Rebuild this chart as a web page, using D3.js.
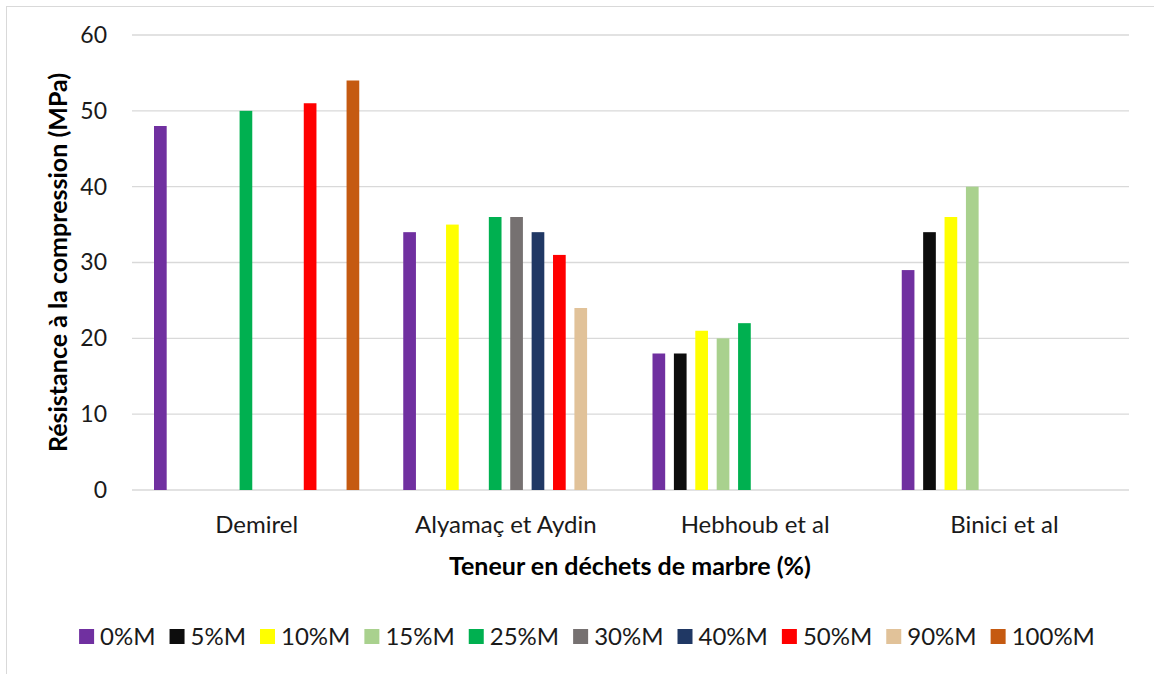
<!DOCTYPE html>
<html>
<head>
<meta charset="utf-8">
<script src="https://cdn.jsdelivr.net/npm/d3@7"></script>
<style>
  html, body { margin: 0; padding: 0; background: #fff; }
  svg { display: block; font-family: Lato, "Open Sans", sans-serif; }
</style>
</head>
<body>
<svg id="chart" width="1154" height="674"></svg>
<script>
// Studies (x-axis groups)
const studies = ["Demirel", "Alyamaç et Aydin", "Hebhoub et al", "Binici et al"];

// Marble-waste replacement levels (series)
const levels = ["0%M", "5%M", "10%M", "15%M", "25%M", "30%M", "40%M", "50%M", "90%M", "100%M"];
const levelColors = ["#7030A0", "#0D0D0D", "#FFFF00", "#A9D18E", "#00B050", "#767171", "#203864", "#FF0000", "#E1C299", "#C55A11"];

// Compressive strength (MPa) per study, one entry per level (null = not tested)
const demirel   = [48, null, null, null, 50, null, null, 51, null, 54];
const alyamac   = [34, null, 35, null, 36, 36, 34, 31, 24, null];
const hebhoub   = [18, 18, 21, 20, 22, null, null, null, null, null];
const binici    = [29, 34, 36, 40, null, null, null, null, null, null];
const seriesByStudy = [demirel, alyamac, hebhoub, binici];

const yTicks = [0, 10, 20, 30, 40, 50, 60];

const svg = d3.select("#chart");
const W = 1154, H = 674;
const margin = { top: 35, right: 25, bottom: 184, left: 132 };
const innerW = W - margin.left - margin.right;
const innerH = H - margin.top - margin.bottom;
const textColor = "#1a1a1a";

// Outer chart frame
svg.append("rect")
  .attr("x", 6.5).attr("y", 6.5)
  .attr("width", W + 20).attr("height", H + 20)
  .attr("fill", "#fff").attr("stroke", "#d9d9d9").attr("stroke-width", 1);

const g = svg.append("g").attr("transform", `translate(${margin.left},${margin.top})`);

const y = d3.scaleLinear().domain([0, 60]).range([innerH, 0]);

const x0 = d3.scaleBand().domain(studies).range([0, innerW])
  .paddingInner(0.1416).paddingOuter(0.0708);
const x1 = d3.scaleBand().domain(levels).range([0, x0.bandwidth()])
  .paddingInner(0.407).paddingOuter(0.2035);

// Gridlines
g.append("g")
  .selectAll("line")
  .data(yTicks)
  .join("line")
  .attr("x1", 0).attr("x2", innerW)
  .attr("y1", d => y(d)).attr("y2", d => y(d))
  .attr("stroke", "#d9d9d9").attr("stroke-width", 1.4);

// Y axis tick labels
const yAxis = g.append("g")
  .call(d3.axisLeft(y).tickValues(yTicks).tickSize(0).tickPadding(25).tickFormat(d3.format("d")));
yAxis.select(".domain").remove();
yAxis.selectAll("text")
  .attr("font-size", 23).attr("fill", textColor)
  .attr("font-family", "Lato, sans-serif");

// Bars
const rows = studies.map((s, i) => ({ study: s, values: seriesByStudy[i] }));
const groups = g.append("g").selectAll("g")
  .data(rows)
  .join("g")
  .attr("transform", d => `translate(${x0(d.study)},0)`);

groups.selectAll("rect")
  .data(d => levels.map((lv, j) => ({ level: lv, value: d.values[j], color: levelColors[j] }))
    .filter(e => e.value !== null))
  .join("rect")
  .attr("x", d => x1(d.level))
  .attr("width", x1.bandwidth())
  .attr("y", d => y(d.value))
  .attr("height", d => y(0) - y(d.value))
  .attr("fill", d => d.color);

// Category labels
const xAxis = g.append("g").attr("transform", `translate(0,${innerH})`)
  .call(d3.axisBottom(x0).tickSize(0).tickPadding(26));
xAxis.select(".domain").remove();
xAxis.selectAll("text")
  .attr("font-size", 24).attr("fill", textColor)
  .attr("font-family", "Lato, sans-serif");

// Axis titles
svg.append("text")
  .attr("x", 630).attr("y", 575)
  .attr("text-anchor", "middle")
  .attr("font-size", 25).attr("font-weight", "bold").attr("fill", "#000")
  .text("Teneur en déchets de marbre (%)");

svg.append("text")
  .attr("transform", `translate(67,${margin.top + innerH / 2}) rotate(-90)`)
  .attr("text-anchor", "middle")
  .attr("font-size", 25).attr("font-weight", "bold").attr("fill", "#000")
  .text("Résistance à la compression (MPa)");

// Legend
const legend = svg.append("g");
const items = legend.selectAll("g").data(levels).join("g");
items.append("rect")
  .attr("width", 15).attr("height", 15).attr("y", -16)
  .attr("fill", (d, i) => levelColors[i]);
items.append("text")
  .attr("x", 21).attr("y", 0)
  .attr("font-size", 24).attr("fill", textColor)
  .text(d => d);

const itemGap = 14;
let cursor = 0;
items.each(function () {
  const el = d3.select(this);
  el.attr("transform", `translate(${cursor},0)`);
  const tw = el.select("text").node().getComputedTextLength();
  cursor += 21 + tw + itemGap;
});
const legendW = cursor - itemGap;
legend.attr("transform", `translate(${587 - legendW / 2},645)`);
</script>
</body>
</html>
